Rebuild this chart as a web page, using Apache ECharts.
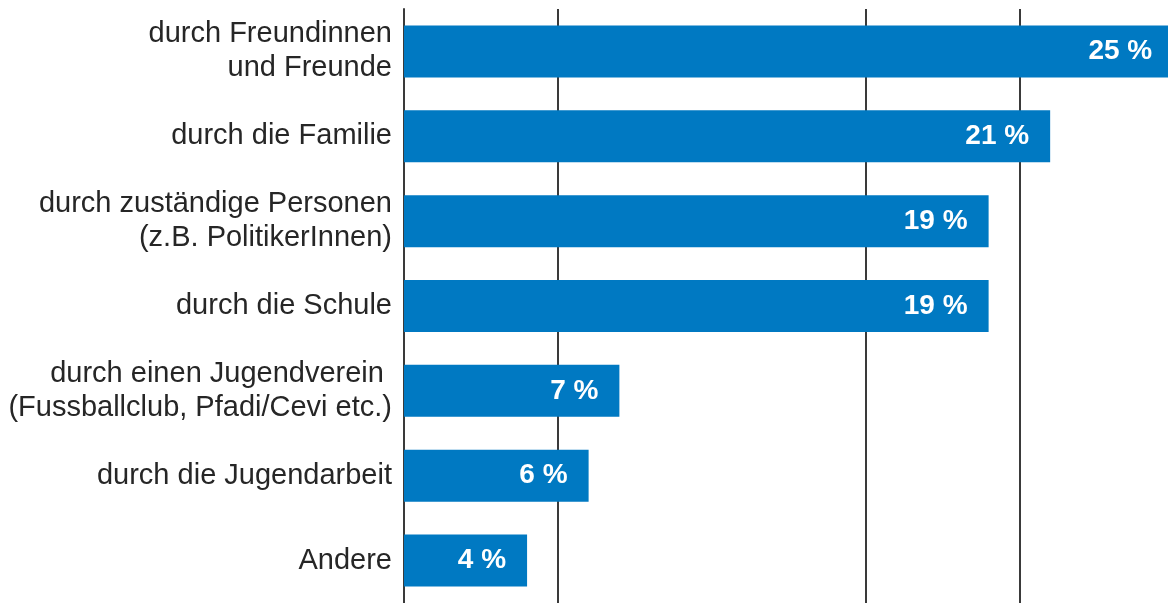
<!DOCTYPE html>
<html>
<head>
<meta charset="utf-8">
<script src="https://cdn.jsdelivr.net/npm/echarts@6.0.0/dist/echarts.min.js"></script>
<style>
  html, body { margin: 0; padding: 0; background: #fff; overflow: hidden; }
  #chart { width: 1168px; height: 603px; }
</style>
</head>
<body>
<div id="chart"></div>
<script>
  // categories top to bottom
  var categories = [
    'durch Freundinnen\nund Freunde',
    'durch die Familie',
    'durch zuständige Personen\n(z.B. PolitikerInnen)',
    'durch die Schule',
    'durch einen Jugendverein \n(Fussballclub, Pfadi/Cevi etc.)',
    'durch die Jugendarbeit',
    'Andere'
  ];
  var values = [25, 21, 19, 19, 7, 6, 4];
  // vertical reference lines (the 10 % one is not drawn in the original)
  var gridValues = [5, 15, 20];

  var chart = echarts.init(document.getElementById('chart'));
  chart.setOption({
    animation: false,
    grid: { left: 404, right: 0, top: 9, bottom: 0 },
    xAxis: {
      type: 'value',
      min: 0,
      // the 25 % bar runs a few pixels past the right edge in the original
      max: 24.83,
      show: false
    },
    yAxis: {
      type: 'category',
      inverse: true,
      data: categories,
      axisTick: { show: false },
      axisLine: { show: true, lineStyle: { color: '#3a3a3a', width: 2 } },
      axisLabel: {
        margin: 12,
        color: '#262626',
        fontSize: 29,
        lineHeight: 34,
        fontFamily: 'Liberation Sans, Arial, sans-serif'
      }
    },
    series: [{
      type: 'bar',
      data: values,
      barWidth: 52,
      clip: false,
      z: 3,
      itemStyle: { color: '#0079c2' },
      label: {
        show: true,
        position: 'insideRight',
        distance: 21,
        formatter: '{c} %',
        color: '#fff',
        fontWeight: 'bold',
        fontSize: 28,
        fontFamily: 'Liberation Sans, Arial, sans-serif'
      },
      markLine: {
        silent: true,
        symbol: 'none',
        z: 1,
        label: { show: false },
        lineStyle: { color: '#3a3a3a', width: 2, type: 'solid' },
        data: gridValues.map(function (v) { return { xAxis: v }; })
      }
    }]
  });
</script>
</body>
</html>
